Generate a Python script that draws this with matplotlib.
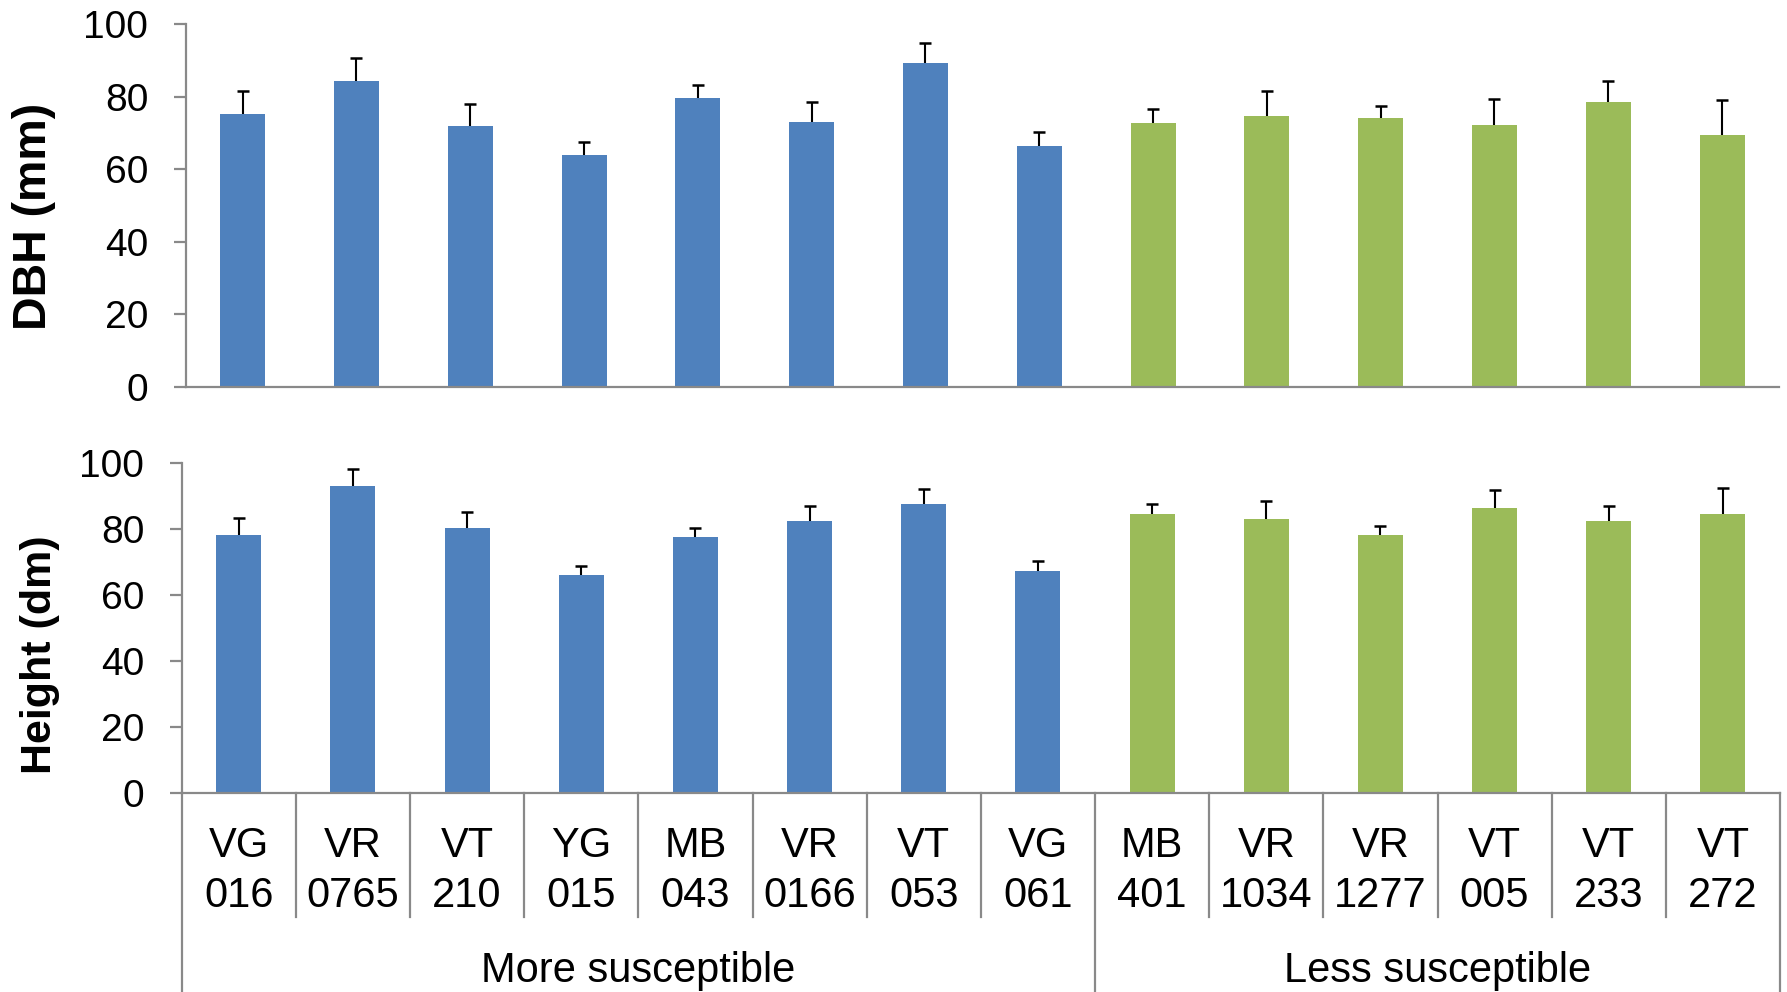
import matplotlib
matplotlib.use("Agg")
import matplotlib.pyplot as plt
import matplotlib.transforms as mtransforms
import numpy as np

plt.rcParams['font.family'] = ['Liberation Sans', 'DejaVu Sans']

# ---------------- data ----------------
codes_top = ["VG", "VR", "VT", "YG", "MB", "VR", "VT", "VG",
             "MB", "VR", "VR", "VT", "VT", "VT"]
codes_bottom = ["016", "0765", "210", "015", "043", "0166", "053", "061",
                "401", "1034", "1277", "005", "233", "272"]
groups = ["More susceptible"] * 8 + ["Less susceptible"] * 6
group_names = ["More susceptible", "Less susceptible"]

dbh = [75.2, 84.2, 72.0, 64.0, 79.5, 73.0, 89.2, 66.5,
       72.7, 74.6, 74.1, 72.2, 78.5, 69.4]
dbh_err = [6.4, 6.3, 5.9, 3.5, 3.7, 5.6, 5.6, 3.8,
           3.9, 7.0, 3.3, 7.2, 5.9, 9.6]
height = [78.3, 93.1, 80.5, 66.1, 77.7, 82.6, 87.6, 67.4,
          84.7, 83.2, 78.3, 86.3, 82.6, 84.7]
height_err = [5.1, 5.2, 4.7, 2.9, 2.8, 4.4, 4.5, 3.1,
              3.1, 5.4, 2.8, 5.6, 4.6, 7.7]

group_colors = {"More susceptible": "#4F81BD", "Less susceptible": "#9BBB59"}
axis_gray = "#898989"

W, H = 1787, 992
fig = plt.figure(figsize=(W / 100, H / 100), dpi=100)

ax1 = fig.add_axes([185.7 / W, 1 - 386.7 / H, (1779 - 185.7) / W, (386.7 - 24) / H])
ax2 = fig.add_axes([181.7 / W, 1 - 793 / H, (1780 - 181.7) / W, (793 - 463.3) / H])

x = np.arange(len(codes_top))
colors = [group_colors[g] for g in groups]


def draw_panel(ax, vals, errs, ylabel, lab_x, lab_y, lab_size):
    ax.bar(x, vals, width=0.395, color=colors, zorder=2)
    eb = ax.errorbar(x, vals, yerr=[np.zeros(len(vals)), errs], fmt='none',
                     ecolor='black', elinewidth=1.5, capsize=4.5, capthick=1.8,
                     zorder=3)
    # hide the lower caps (error bars are drawn upward only)
    for cl in eb[1]:
        yd = np.asarray(cl.get_ydata(), dtype=float)
        if np.allclose(yd, np.asarray(vals, dtype=float)):
            cl.set_visible(False)
    ax.set_xlim(-0.5, len(x) - 0.5)
    ax.set_ylim(0, 100)
    ax.set_yticks([0, 20, 40, 60, 80, 100])
    ax.set_xticks([])
    for s in ["top", "right"]:
        ax.spines[s].set_visible(False)
    for s in ["left", "bottom"]:
        ax.spines[s].set_color(axis_gray)
        ax.spines[s].set_linewidth(1.6)
    ax.tick_params(axis='y', direction='out', length=9, width=1.6,
                   color=axis_gray, labelsize=28, pad=18)
    ax.set_ylabel(ylabel, fontsize=lab_size, fontweight='bold')
    ax.yaxis.set_label_coords(lab_x, lab_y)


draw_panel(ax1, dbh, dbh_err, "DBH (mm)", -0.0815, 0.469, 33.5)
draw_panel(ax2, height, height_err, "Height (dm)", -0.0763, 0.418, 31)

# ---------------- multi-level category axis ----------------
tr = mtransforms.blended_transform_factory(ax2.transData, fig.transFigure)
y_base = 1 - 793 / H
y_short = 1 - 916.7 / H
for i in range(len(x) + 1):
    xb = i - 0.5
    is_outer = (i == 0) or (i == len(x)) or (groups[i - 1] != groups[min(i, len(x) - 1)])
    y_end = 0.0 if is_outer else y_short
    ax2.plot([xb, xb], [y_base, y_end], transform=tr, color=axis_gray,
             linewidth=1.6, clip_on=False, zorder=1)

for i in range(len(x)):
    ax2.text(x[i], 1 - 857 / H, codes_top[i], transform=tr, ha='center',
             va='baseline', fontsize=30)
    ax2.text(x[i], 1 - 906.7 / H, codes_bottom[i], transform=tr, ha='center',
             va='baseline', fontsize=30)

for g in group_names:
    idx = [i for i, gg in enumerate(groups) if gg == g]
    xc = (idx[0] + idx[-1]) / 2
    ax2.text(xc, 1 - 982 / H, g, transform=tr, ha='center', va='baseline',
             fontsize=30)

fig.savefig("out.png", dpi=100)
